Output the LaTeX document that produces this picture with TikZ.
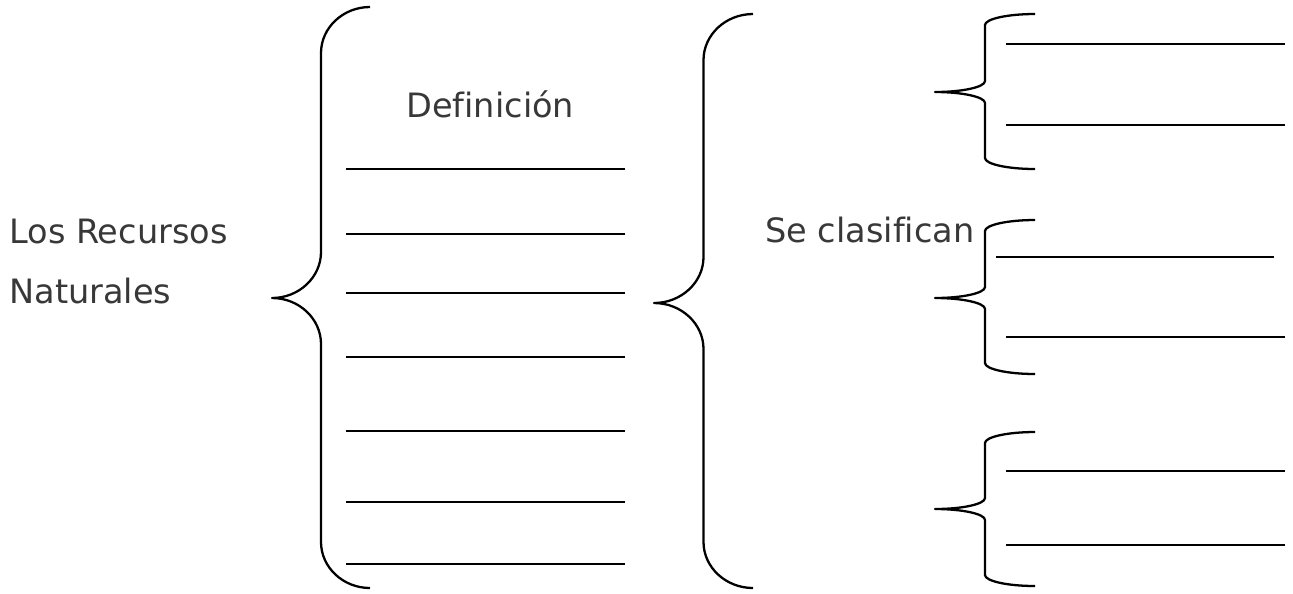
\documentclass[tikz,border=0pt]{standalone}
\usepackage{fontspec}
\setmainfont[Ligatures=NoCommon]{DejaVu Sans}
\usepackage{xcolor}

\tikzset{
    texto/.style={inner sep=0pt, anchor=base west, text=black!78,
        font=\fontsize{19.1}{23}\selectfont},
    raya/.style={line width=1.3pt},
    llave/.style={line width=1.3pt, line join=round}
}

\begin{document}
\begin{tikzpicture}[x=0.02cm, y=-0.02cm]
                \useasboundingbox (0,0) rectangle (1293,593);
                % textos
                \node[texto] (los) at (9,243) {Los Recursos};
                \node[texto] (nat) at (9,303) {Naturales};
                \node[texto] (def) at (406,117) {Definición};
                \node[texto] (clas) at (765,242) {Se clasifican};
                % llaves
                \foreach \xe/\xt/\ya/\ym/\yb/\ry in {370/272/7/298/588/46, 753/654/14/303/588/46,
                    1035/935/14/92/169/11, 1035/935/220/298/374/11, 1035/935/432/509/586/11}{
                    \pgfmathsetmacro{\xv}{(\xe+\xt)/2}
                    \pgfmathsetmacro{\kx}{0.55*(\xe-\xv)}
                    \draw[llave] (\xe,\ya) .. controls +(-\kx,0) and +(0,-0.55*\ry) .. (\xv,\ya+\ry)
                        -- (\xv,\ym-\ry) .. controls +(0,0.55*\ry) and +(\kx,0) .. (\xt,\ym)
                        .. controls +(\kx,0) and +(0,-0.55*\ry) .. (\xv,\ym+\ry)
                        -- (\xv,\yb-\ry) .. controls +(0,0.55*\ry) and +(-\kx,0) .. (\xe,\yb);
                }
                % rayas
                \foreach \y in {169,234,293,357,431,502,564}
                    \draw[raya] (346,\y) -- (625,\y);
                \foreach \y in {44,125,337,471,545}
                    \draw[raya] (1006,\y) -- (1285,\y);
                \draw[raya] (996,257) -- (1274,257);
            \end{tikzpicture}
\end{document}
